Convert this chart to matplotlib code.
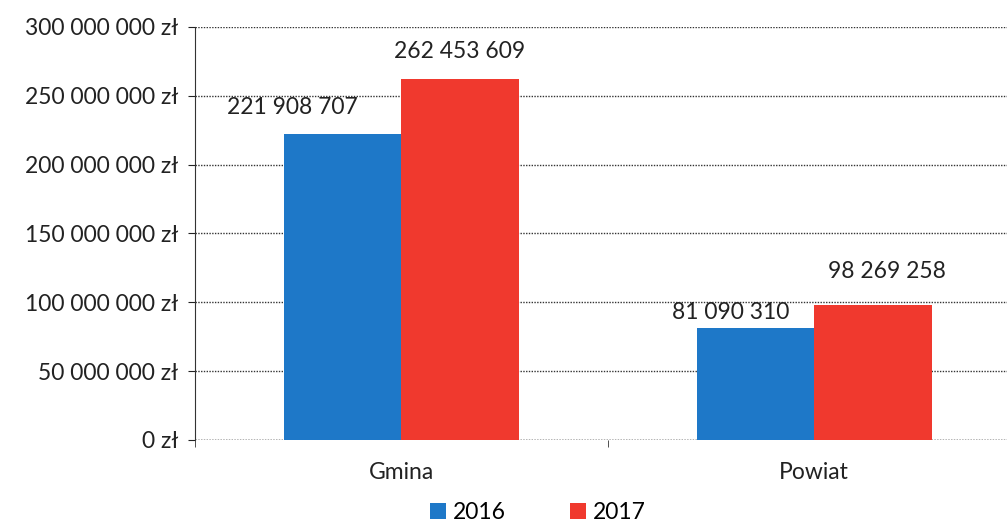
import numpy as np
import matplotlib.pyplot as plt
from matplotlib.ticker import FuncFormatter

plt.rcParams['font.family'] = ['Lato', 'DejaVu Sans']

categories = ['Gmina', 'Powiat']
years = ['2016', '2017']
values_2016 = [221908707, 81090310]
values_2017 = [262453609, 98269258]
colors = ['#1e78c8', '#f0392e']

def fmt_pl(v):
    return '{:,}'.format(int(v)).replace(',', ' ')

fig = plt.figure(figsize=(10.07, 5.26), dpi=100)
ax = fig.add_axes([0.1936, 0.1635, 0.820, 0.7852])

x = np.arange(len(categories))
w = 0.284
b1 = ax.bar(x - w / 2, values_2016, w, color=colors[0], label=years[0], zorder=3)
b2 = ax.bar(x + w / 2, values_2017, w, color=colors[1], label=years[1], zorder=3)

# label offsets (points) - labels in original are a bit off-center
offsets_2016 = [(-36, 12), (-18, 4)]
offsets_2017 = [(0, 12), (10, 16)]
for bars, vals, offs in [(b1, values_2016, offsets_2016), (b2, values_2017, offsets_2017)]:
    for r, v, o in zip(bars, vals, offs):
        ax.annotate(fmt_pl(v), (r.get_x() + r.get_width() / 2, v),
                    xytext=o, textcoords='offset points',
                    ha='center', va='bottom', fontsize=16.5, color='#222222')

ax.set_xlim(-0.5, 1.5)
ax.set_ylim(0, 300000000)
ax.set_yticks(np.arange(0, 300000001, 50000000))
ax.yaxis.set_major_formatter(FuncFormatter(lambda v, p: fmt_pl(v) + ' zł'))
ax.set_xticks(x)
ax.set_xticklabels(categories)
ax.set_xticks([-0.5, 0.5, 1.5], minor=True)
ax.tick_params(axis='x', which='major', length=0, pad=16, labelsize=16.5, colors='#222222')
ax.tick_params(axis='x', which='minor', length=5, color='#333333')
ax.tick_params(axis='y', length=5, labelsize=16.5, colors='#222222', pad=7)

ax.grid(axis='y', color='#333333', linestyle=(0, (1, 1)), linewidth=1.0, zorder=0)
for s in ['top', 'right', 'bottom']:
    ax.spines[s].set_visible(False)
ax.spines['left'].set_color('#333333')
ax.axhline(0, color='#333333', linestyle=(0, (1, 1)), linewidth=1.0, zorder=2)

fig.legend(handles=[b1, b2], labels=years, loc='center', ncol=2,
           bbox_to_anchor=(0.534, 0.025), frameon=False, fontsize=16.5,
           handlelength=0.7, handleheight=0.7, columnspacing=2.8, handletextpad=0.3,
           borderpad=0.0)

fig.savefig('out.png', dpi=100)
